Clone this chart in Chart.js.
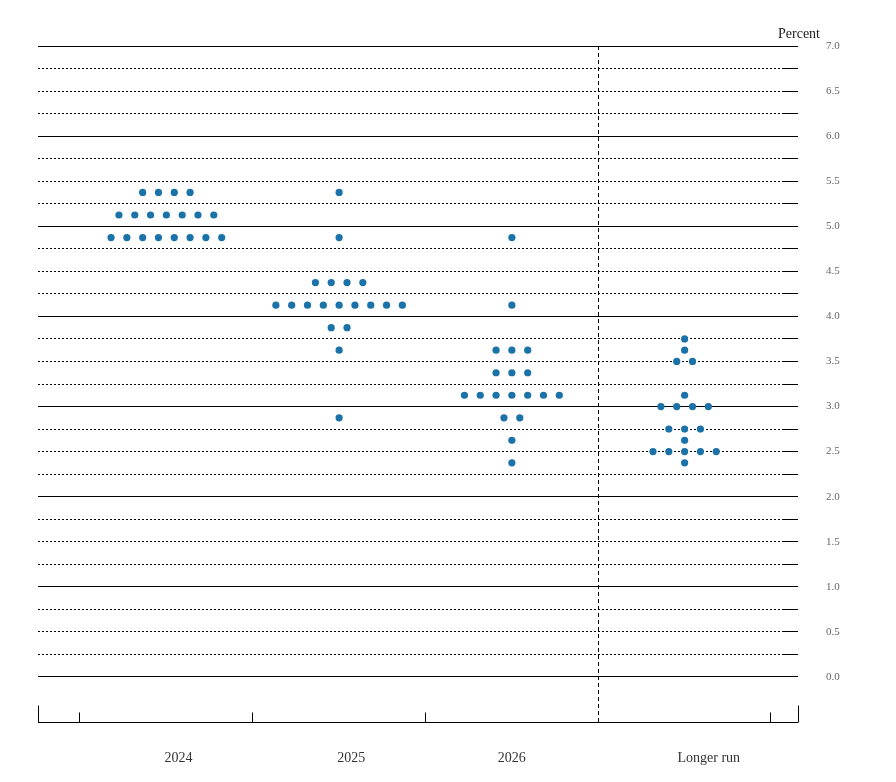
<!DOCTYPE html>
<html lang="en">
<head>
    <meta charset="UTF-8">
    <title>FOMC dot plot</title>
    <script src="https://cdn.jsdelivr.net/npm/chart.js"></script>
    <style>
        body { margin: 0; background: #fff; }
        canvas { display: block; }
    </style>
</head>
<body>
    <canvas id="dots" width="896" height="782"></canvas>

    <script>
        // Projection groups along the bottom
        const groups = ['2024', '2025', '2026', 'Longer run'];

        // Midpoint of target range (percent) and number of participants at that level
        const rates2024 = [5.375, 5.125, 4.875];
        const counts2024 = [4, 7, 8];

        const rates2025 = [5.375, 4.875, 4.375, 4.125, 3.875, 3.625, 2.875];
        const counts2025 = [1, 1, 4, 9, 2, 1, 1];

        const rates2026 = [4.875, 4.125, 3.625, 3.375, 3.125, 2.875, 2.625, 2.375];
        const counts2026 = [1, 1, 3, 3, 7, 2, 1, 1];

        const ratesLonger = [3.75, 3.625, 3.5, 3.125, 3.0, 2.75, 2.625, 2.5, 2.375];
        const countsLonger = [1, 1, 2, 1, 4, 3, 1, 5, 1];

        // y-axis tick labels (every half point)
        const yLabels = ['0.0', '0.5', '1.0', '1.5', '2.0', '2.5', '3.0', '3.5', '4.0', '4.5', '5.0', '5.5', '6.0', '6.5', '7.0'];

        const rateSets = [rates2024, rates2025, rates2026, ratesLonger];
        const countSets = [counts2024, counts2025, counts2026, countsLonger];

        const DOT_STEP = 0.0915;   // horizontal gap between dots, in x units

        const points = [];
        rateSets.forEach(function (rates, g) {
            rates.forEach(function (r, k) {
                const n = countSets[g][k];
                for (let i = 0; i < n; i++) {
                    points.push({ x: g + 1 + (i - (n - 1) / 2) * DOT_STEP, y: r });
                }
            });
        });

        // where the category names sit under the axis
        const labelAt = [1.07, 2.07, 3.0, 4.14];

        const isInt = v => Math.abs(v - Math.round(v)) < 1e-6;
        const isHalf = v => Math.abs(v * 2 - Math.round(v * 2)) < 1e-6;
        // same pixel snapping Chart.js uses for 1px lines
        const snap = p => Math.round(p - 0.5) + 0.5;

        const decor = {
            id: 'decor',
            afterDraw(chart) {
                const c = chart.ctx;
                const a = chart.chartArea;
                const xs = chart.scales.x;
                const ys = chart.scales.y;
                c.save();
                c.strokeStyle = '#000';
                c.lineWidth = 1;

                // short solid stubs at the right end of every rule
                ys.ticks.forEach(function (t) {
                    if (t.value < -1e-6) return;
                    const y = snap(ys.getPixelForValue(t.value));
                    c.beginPath();
                    c.moveTo(a.right - 15, y);
                    c.lineTo(a.right, y);
                    c.stroke();
                });

                // dashed divider before the longer run
                const xd = snap(xs.getPixelForValue(3.5));
                c.setLineDash([4, 3]);
                c.beginPath();
                c.moveTo(xd, a.top);
                c.lineTo(xd, a.bottom);
                c.stroke();
                c.setLineDash([]);

                // tick marks on the baseline
                const yb = snap(a.bottom);
                [0.5, 1.5, 2.5, 4.5].forEach(function (v) {
                    const x = snap(xs.getPixelForValue(v));
                    c.beginPath();
                    c.moveTo(x, yb - 10);
                    c.lineTo(x, yb);
                    c.stroke();
                });
                [a.left, a.right].forEach(function (px) {
                    const x = snap(px);
                    c.beginPath();
                    c.moveTo(x, yb - 17);
                    c.lineTo(x, yb);
                    c.stroke();
                });

                // unit label
                c.fillStyle = '#222';
                c.font = '14px "Liberation Serif", serif';
                c.textAlign = 'right';
                c.textBaseline = 'middle';
                c.fillText('Percent', a.right + 22, a.top - 12);
                c.restore();
            }
        };

        new Chart(document.getElementById('dots'), {
            type: 'scatter',
            data: {
                datasets: [{
                    data: points,
                    backgroundColor: '#1a72a8',
                    borderWidth: 0,
                    pointRadius: 3.6,
                    pointHoverRadius: 3.6
                }]
            },
            options: {
                responsive: false,
                animation: false,
                layout: { padding: { left: 38, top: 46, right: 0, bottom: 0 } },
                plugins: {
                    legend: { display: false },
                    tooltip: { enabled: false }
                },
                scales: {
                    x: {
                        type: 'linear',
                        min: 0.2569,
                        max: 4.6563,
                        afterBuildTicks(s) {
                            s.ticks = labelAt.map(v => ({ value: v }));
                        },
                        afterFit(s) { s.height = 60; },
                        grid: { display: false },
                        border: { display: false },
                        ticks: {
                            autoSkip: false,
                            maxRotation: 0,
                            padding: 20,
                            color: '#333',
                            font: { family: '"Liberation Serif", serif', size: 14 },
                            callback: (v, i) => groups[i]
                        }
                    },
                    y: {
                        position: 'right',
                        min: -0.5,
                        max: 7,
                        afterFit(s) { s.width = 98; },
                        grid: {
                            drawTicks: false,
                            lineWidth: 1,
                            color(ctx) {
                                const v = ctx.tick ? ctx.tick.value : 0;
                                if (v < -0.1 && v > -0.4) return 'rgba(0,0,0,0)';
                                return '#000';
                            }
                        },
                        border: {
                            display: false,
                            dash(ctx) {
                                if (!ctx.tick) return [];
                                return isInt(ctx.tick.value) || ctx.tick.value < -0.4 ? [] : [2, 2];
                            }
                        },
                        ticks: {
                            stepSize: 0.25,
                            autoSkip: false,
                            padding: 28,
                            color: '#666',
                            font: { family: '"Liberation Serif", serif', size: 11 },
                            callback(v) {
                                if (v < -1e-6 || !isHalf(v)) return '';
                                return yLabels[Math.round(v * 2)];
                            }
                        }
                    }
                }
            },
            plugins: [decor]
        });
    </script>
</body>
</html>
